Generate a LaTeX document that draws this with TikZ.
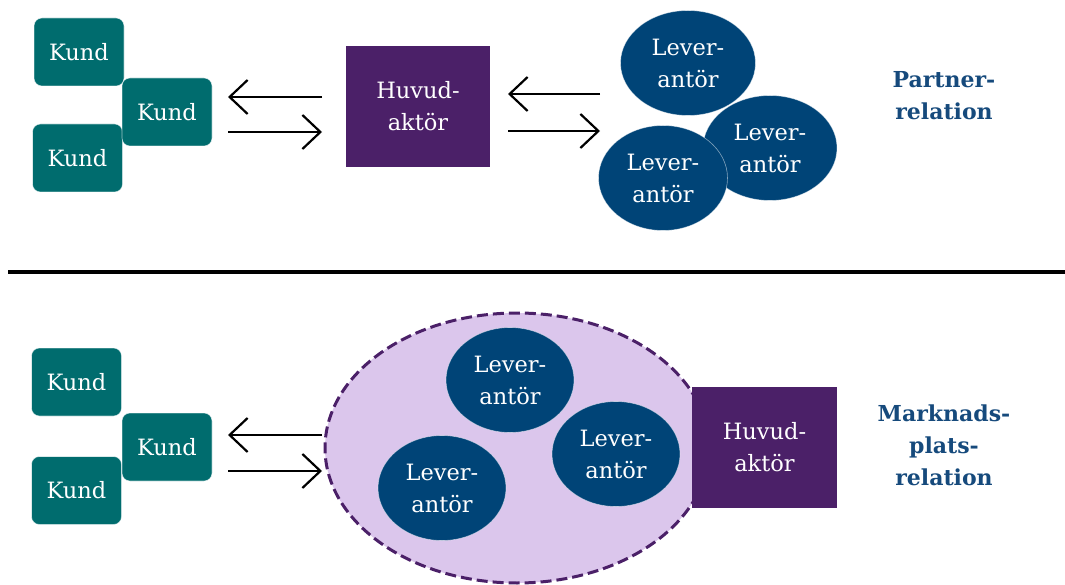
\documentclass[tikz,border=0pt]{standalone}
\usepackage{fontspec}
\setmainfont{DejaVu Serif}
\usetikzlibrary{arrows.meta,shapes.geometric}

\definecolor{kundteal}{RGB}{0,108,110}
\definecolor{aktorpurple}{RGB}{75,32,104}
\definecolor{levblue}{RGB}{0,68,119}
\definecolor{marketfill}{RGB}{219,198,236}
\definecolor{labelblue}{RGB}{22,74,124}

\begin{document}
\begin{tikzpicture}[x=1pt,y=-1pt,
  bodytext/.style={text=white, align=center, font=\fontsize{22.5}{32}\selectfont},
  kund/.style={bodytext, fill=kundteal, draw=white, draw opacity=0.6, line width=0.6pt,
    rounded corners=8pt, minimum width=90pt, minimum height=68pt, inner sep=0pt},
  aktor/.style={bodytext, fill=aktorpurple, minimum width=144pt, minimum height=121pt, inner sep=0pt},
  lev/.style={bodytext, ellipse, fill=levblue, draw=white, draw opacity=0.5, line width=0.6pt,
    minimum width=128pt, minimum height=105pt, inner sep=0pt},
  market/.style={ellipse, fill=marketfill, draw=aktorpurple, line width=3pt,
    dash pattern=on 11pt off 5pt, minimum width=384pt, minimum height=270pt, inner sep=0pt},
  flow/.style={line width=2.2pt, -{Straight Barb[length=18pt,width=34pt,line width=2.2pt]}},
  tag/.style={text=labelblue, align=center, font=\bfseries\fontsize{22}{32}\selectfont},
  divider/.style={line width=4pt}
]
\useasboundingbox (0,0) rectangle (1065,585);

% ---------- partner relation ----------
\node[kund] (pk1) at (79,52) {Kund};
\node[kund] (pk3) at (77.5,158) {Kund};
\node[kund] (pk2) at (167,112) {Kund};

\node[aktor] (ph) at (418,106.5) {Huvud-\\aktör};

\node[lev, minimum width=135pt] (pl1) at (688,63) {Lever-\\antör};
\node[lev, minimum width=134pt] (pl2) at (770,148) {Lever-\\antör};
\node[lev, minimum width=129pt] (pl3) at (663,178) {Lever-\\antör};

\coordinate (pa1s) at (322,97);  \coordinate (pa1e) at (228,97);
\coordinate (pa2s) at (228,132); \coordinate (pa2e) at (322,132);
\coordinate (pb1s) at (600,94);  \coordinate (pb1e) at (508,94);
\coordinate (pb2s) at (508,131); \coordinate (pb2e) at (600,131);
\draw[flow] (pa1s) -- (pa1e);
\draw[flow] (pa2s) -- (pa2e);
\draw[flow] (pb1s) -- (pb1e);
\draw[flow] (pb2s) -- (pb2e);

\node[tag] (ptag) at (944,96) {Partner-\\relation};

% ---------- divider ----------
\coordinate (dl) at (8,272);
\coordinate (dr) at (1065,272);
\draw[divider] (dl) -- (dr);

% ---------- marketplace relation ----------
\node[kund] (mk1) at (76.5,382) {Kund};
\node[kund] (mk3) at (76.5,490.5) {Kund};
\node[kund] (mk2) at (167,447) {Kund};

\node[market] (mm) at (517,448) {};
\node[lev] (ml1) at (510,380) {Lever-\\antör};
\node[lev] (ml2) at (616,454) {Lever-\\antör};
\node[lev] (ml3) at (442,488) {Lever-\\antör};
\node[aktor, minimum width=145pt] (mh) at (764.5,447.5) {Huvud-\\aktör};

\coordinate (ma1s) at (322,435); \coordinate (ma1e) at (228,435);
\coordinate (ma2s) at (228,471); \coordinate (ma2e) at (322,471);
\draw[flow] (ma1s) -- (ma1e);
\draw[flow] (ma2s) -- (ma2e);

\node[tag] (mtag) at (944,445) {Marknads-\\plats-\\relation};
\end{tikzpicture}
\end{document}
